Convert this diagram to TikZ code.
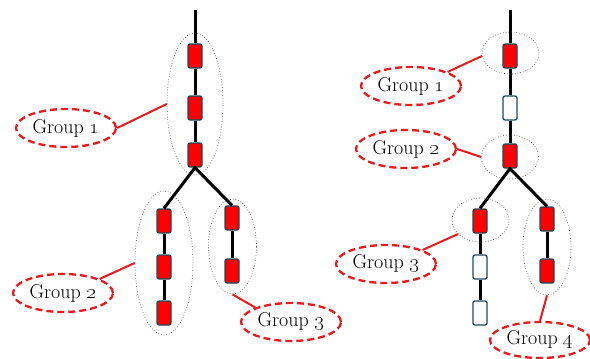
\documentclass[tikz,border=0pt]{standalone}
\usetikzlibrary{shapes.geometric}
\definecolor{boxborder}{RGB}{31,73,90}
\definecolor{labred}{RGB}{235,25,30}
\tikzset{
 trunk/.style={line width=3pt, black},
 rbox/.style={draw=boxborder, line width=1.3pt, fill=red, rounded corners=2pt, minimum width=14pt, minimum height=24pt, inner sep=0pt},
 wbox/.style={rbox, fill=white},
 grp/.style={ellipse, draw=gray!70!black, dotted, line width=0.7pt, inner sep=0pt},
 lab/.style={ellipse, draw=labred, dash pattern=on 7pt off 4pt, line width=2.3pt, minimum width=100pt, minimum height=38pt, inner sep=0pt, font=\fontsize{20}{22}\selectfont},
 link/.style={draw=labred, line width=2pt}
}
\begin{document}
\begin{tikzpicture}[x=1pt,y=-1pt]
\useasboundingbox (0,0) rectangle (590,359);
% left tree
\coordinate (atop) at (195,10);
\node[rbox] (a1) at (195,56) {};
\node[rbox] (a2) at (195,108) {};
\node[rbox] (a3) at (195,155) {};
\node[rbox] (b1) at (164,221) {};
\node[rbox] (b2) at (164,267) {};
\node[rbox] (b3) at (164,313) {};
\node[rbox] (c1) at (232,218) {};
\node[rbox] (c2) at (232,271) {};
\draw[trunk] (atop) -- (a1) -- (a2) -- (a3);
\draw[trunk] (b1.north) -- (a3.south) -- (c1.north);
\draw[trunk] (b1) -- (b2) -- (b3);
\draw[trunk] (c1) -- (c2);
\node[grp, minimum width=56pt, minimum height=142pt] (ga) at (195,104) {};
\node[grp, minimum width=58pt, minimum height=144pt] (gb) at (164,263) {};
\node[grp, minimum width=48pt, minimum height=95pt] (gc) at (232.5,246.5) {};
\node[lab] (la) at (66,128) {Group \oldstylenums{1}};
\node[lab] (lb) at (63,293) {Group \oldstylenums{2}};
\node[lab] (lc) at (291,322) {Group \oldstylenums{3}};
\draw[link] (la.east) -- (ga.west);
\draw[link] (lb.21) -- (gb.west);
\draw[link] (lc.158) -- (gc.south);
% right tree
\coordinate (rtop) at (510,10);
\node[rbox] (r1) at (510,56) {};
\node[wbox] (r2) at (510,108) {};
\node[rbox] (r3) at (510,156) {};
\node[rbox] (s1) at (480,221) {};
\node[wbox] (s2) at (480,267) {};
\node[wbox] (s3) at (480,313) {};
\node[rbox] (t1) at (547,219) {};
\node[rbox] (t2) at (547,271) {};
\draw[trunk] (rtop) -- (r1) -- (r2) -- (r3);
\draw[trunk] (s1.north) -- (r3.south) -- (t1.north);
\draw[trunk] (s1) -- (s2) -- (s3);
\draw[trunk] (t1) -- (t2);
\node[grp, minimum width=57pt, minimum height=42pt] (gr1) at (510.5,53) {};
\node[grp, minimum width=57pt, minimum height=44pt] (gr2) at (510,157) {};
\node[grp, minimum width=57pt, minimum height=44pt] (gr3) at (480.5,220) {};
\node[grp, minimum width=48pt, minimum height=96pt] (gr4) at (547,247) {};
\node[lab] (lr1) at (411,86) {Group \oldstylenums{1}};
\node[lab] (lr2) at (406,149) {Group \oldstylenums{2}};
\node[lab] (lr3) at (386,264) {Group \oldstylenums{3}};
\node[lab, minimum height=36pt] (lr4) at (540,340) {Group \oldstylenums{4}};
\draw[link] (lr1.21) -- (gr1.186);
\draw[link] (lr2.east) -- (gr2.west);
\draw[link] (lr3.21) -- (gr3.212);
\draw[link] (lr4.north) -- (gr4.south);
\end{tikzpicture}
\end{document}
